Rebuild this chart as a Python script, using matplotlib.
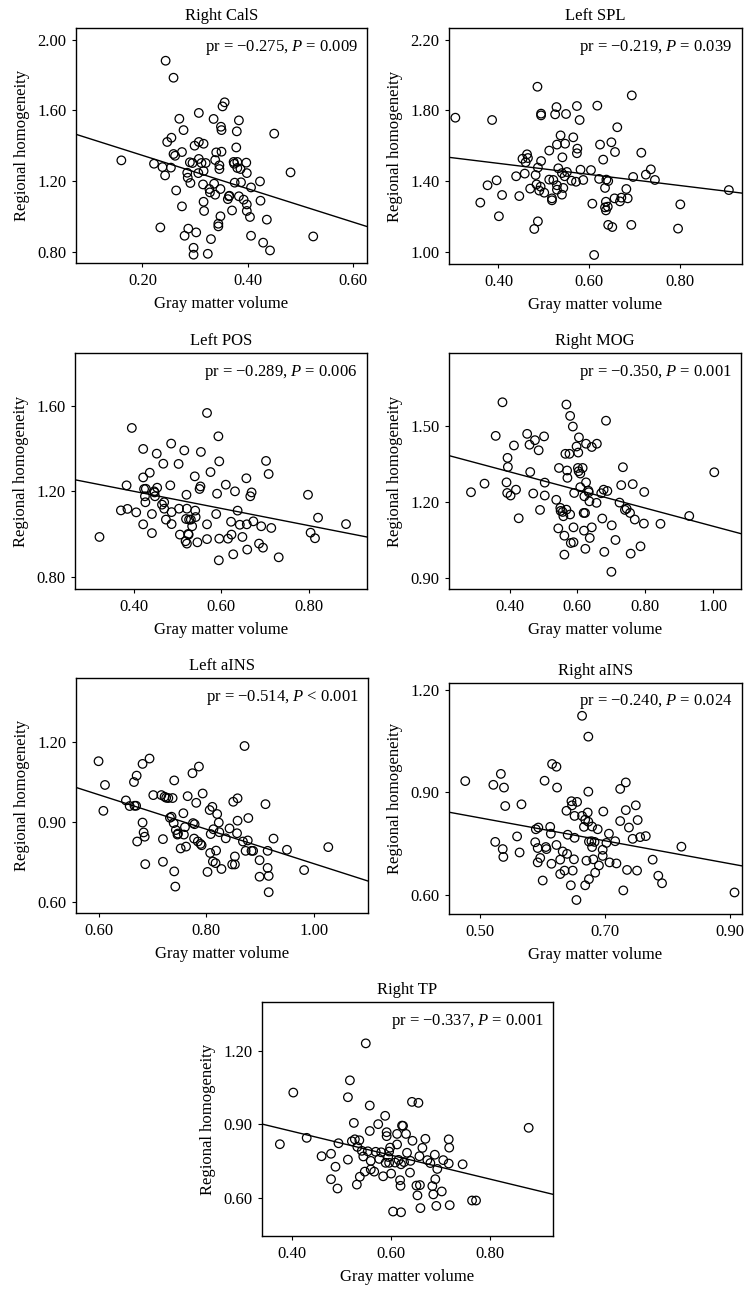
import numpy as np
import matplotlib
matplotlib.use("Agg")
from matplotlib import pyplot as plt

plt.rcParams['font.family'] = ['Liberation Serif', 'DejaVu Serif']
plt.rcParams['mathtext.fontset'] = 'custom'
plt.rcParams['mathtext.rm'] = 'Liberation Serif'
plt.rcParams['mathtext.it'] = 'Liberation Serif:italic'

# ---- data (gray matter volume, regional homogeneity) ----
x_cals = [0.160, 0.244, 0.259, 0.356, 0.352, 0.270, 0.307, 0.335, 0.383, 0.278, 0.349, 0.350,
          0.379, 0.450, 0.255, 0.247, 0.307, 0.299, 0.316, 0.378, 0.275, 0.259, 0.262, 0.340,
          0.350, 0.397, 0.222, 0.238, 0.243, 0.290, 0.295, 0.307, 0.312, 0.320, 0.338, 0.346,
          0.346, 0.373, 0.380, 0.374, 0.380, 0.386, 0.398, 0.254, 0.306, 0.285, 0.316, 0.286,
          0.291, 0.315, 0.336, 0.327, 0.328, 0.338, 0.348, 0.375, 0.387, 0.423, 0.406, 0.481,
          0.264, 0.364, 0.365, 0.362, 0.383, 0.392, 0.398, 0.424, 0.316, 0.275, 0.317, 0.370,
          0.398, 0.348, 0.404, 0.436, 0.234, 0.287, 0.302, 0.280, 0.330, 0.406, 0.344, 0.344,
          0.524, 0.429, 0.442, 0.297, 0.297, 0.324]
y_cals = [1.318, 1.881, 1.785, 1.646, 1.623, 1.553, 1.586, 1.552, 1.544, 1.489, 1.508, 1.489,
          1.482, 1.469, 1.446, 1.422, 1.422, 1.401, 1.412, 1.391, 1.365, 1.354, 1.344, 1.363,
          1.367, 1.305, 1.299, 1.280, 1.233, 1.307, 1.303, 1.326, 1.303, 1.303, 1.320, 1.290,
          1.269, 1.309, 1.309, 1.299, 1.275, 1.269, 1.246, 1.277, 1.246, 1.248, 1.258, 1.220,
          1.190, 1.182, 1.186, 1.156, 1.137, 1.124, 1.156, 1.192, 1.194, 1.199, 1.165, 1.250,
          1.148, 1.115, 1.118, 1.099, 1.115, 1.096, 1.069, 1.090, 1.084, 1.058, 1.032, 1.035,
          1.032, 1.002, 0.998, 0.983, 0.939, 0.932, 0.911, 0.892, 0.873, 0.892, 0.945, 0.960,
          0.888, 0.853, 0.809, 0.824, 0.785, 0.790]

x_spl = [0.305, 0.386, 0.360, 0.376, 0.396, 0.401, 0.408, 0.439, 0.446, 0.458, 0.453, 0.460,
         0.463, 0.465, 0.470, 0.479, 0.482, 0.484, 0.486, 0.487, 0.487, 0.490, 0.493, 0.494,
         0.494, 0.494, 0.501, 0.512, 0.512, 0.518, 0.518, 0.521, 0.525, 0.528, 0.529, 0.529,
         0.529, 0.532, 0.537, 0.540, 0.541, 0.540, 0.543, 0.546, 0.547, 0.549, 0.551, 0.561,
         0.565, 0.571, 0.573, 0.574, 0.573, 0.579, 0.581, 0.587, 0.604, 0.607, 0.611, 0.622,
         0.624, 0.618, 0.631, 0.638, 0.642, 0.635, 0.635, 0.637, 0.637, 0.641, 0.642, 0.649,
         0.651, 0.656, 0.657, 0.662, 0.668, 0.671, 0.682, 0.685, 0.693, 0.694, 0.697, 0.715,
         0.725, 0.736, 0.745, 0.796, 0.801, 0.908]
y_spl = [1.759, 1.746, 1.279, 1.377, 1.405, 1.202, 1.322, 1.428, 1.316, 1.443, 1.527, 1.507,
         1.552, 1.531, 1.358, 1.130, 1.435, 1.382, 1.934, 1.477, 1.173, 1.347, 1.369, 1.514,
         1.782, 1.772, 1.335, 1.409, 1.573, 1.303, 1.292, 1.407, 1.778, 1.819, 1.607, 1.377,
         1.352, 1.473, 1.659, 1.446, 1.535, 1.324, 1.362, 1.428, 1.612, 1.780, 1.452, 1.403,
         1.648, 1.397, 1.558, 1.584, 1.825, 1.746, 1.465, 1.407, 1.463, 1.273, 0.983, 1.413,
         1.607, 1.827, 1.522, 1.409, 1.401, 1.362, 1.252, 1.284, 1.235, 1.256, 1.153, 1.620,
         1.141, 1.303, 1.565, 1.705, 1.286, 1.307, 1.356, 1.303, 1.153, 1.885, 1.424, 1.561,
         1.437, 1.467, 1.407, 1.132, 1.269, 1.350]

x_pos = [0.321, 0.370, 0.385, 0.383, 0.395, 0.405, 0.421, 0.421, 0.421, 0.423, 0.425, 0.426,
         0.427, 0.436, 0.441, 0.441, 0.446, 0.447, 0.448, 0.452, 0.453, 0.464, 0.467, 0.469,
         0.469, 0.473, 0.483, 0.485, 0.486, 0.486, 0.502, 0.503, 0.505, 0.515, 0.518, 0.519,
         0.520, 0.521, 0.521, 0.525, 0.526, 0.524, 0.530, 0.533, 0.539, 0.540, 0.541, 0.545,
         0.550, 0.553, 0.552, 0.567, 0.567, 0.567, 0.575, 0.588, 0.590, 0.593, 0.594, 0.595,
         0.595, 0.610, 0.615, 0.622, 0.623, 0.627, 0.631, 0.637, 0.642, 0.648, 0.659, 0.658,
         0.657, 0.666, 0.669, 0.673, 0.686, 0.691, 0.695, 0.702, 0.708, 0.714, 0.731, 0.798,
         0.804, 0.814, 0.821, 0.885]
y_pos = [0.987, 1.111, 1.118, 1.228, 1.496, 1.102, 1.046, 1.398, 1.265, 1.211, 1.177, 1.149,
         1.212, 1.287, 1.094, 1.005, 1.200, 1.195, 1.177, 1.376, 1.217, 1.138, 1.329, 1.149,
         1.119, 1.068, 1.228, 1.423, 1.103, 1.047, 1.328, 1.119, 0.998, 1.391, 0.967, 1.071,
         1.184, 0.956, 1.119, 0.998, 1.068, 1.001, 1.068, 1.037, 1.270, 1.110, 1.080, 0.962,
         1.211, 1.384, 1.223, 1.566, 1.046, 0.977, 1.290, 1.094, 1.189, 1.457, 0.878, 1.340,
         0.979, 1.231, 0.979, 1.058, 0.998, 0.906, 1.200, 1.110, 1.044, 0.987, 0.928, 1.046,
         1.261, 1.177, 1.195, 1.060, 0.956, 1.037, 0.937, 1.342, 1.281, 1.029, 0.892, 1.184,
         1.007, 0.981, 1.077, 1.047]

x_mog = [0.286, 0.326, 0.359, 0.379, 0.391, 0.393, 0.394, 0.395, 0.403, 0.413, 0.419, 0.427,
         0.452, 0.459, 0.461, 0.470, 0.475, 0.486, 0.490, 0.502, 0.504, 0.504, 0.538, 0.544,
         0.546, 0.550, 0.551, 0.557, 0.559, 0.562, 0.562, 0.565, 0.568, 0.568, 0.570, 0.571,
         0.579, 0.577, 0.581, 0.579, 0.587, 0.589, 0.591, 0.589, 0.598, 0.602, 0.603, 0.605,
         0.604, 0.609, 0.609, 0.616, 0.619, 0.620, 0.621, 0.623, 0.626, 0.626, 0.624, 0.633,
         0.634, 0.636, 0.637, 0.643, 0.643, 0.658, 0.657, 0.671, 0.674, 0.678, 0.680, 0.685,
         0.689, 0.701, 0.702, 0.713, 0.725, 0.730, 0.735, 0.741, 0.746, 0.756, 0.758, 0.764,
         0.770, 0.787, 0.797, 0.798, 0.846, 0.931, 1.005]
y_mog = [1.239, 1.273, 1.462, 1.595, 1.278, 1.236, 1.375, 1.339, 1.226, 1.424, 1.249, 1.136,
         1.470, 1.427, 1.319, 1.234, 1.445, 1.405, 1.169, 1.460, 1.277, 1.226, 1.209, 1.096,
         1.335, 1.177, 1.165, 1.161, 1.144, 1.067, 0.992, 1.391, 1.586, 1.170, 1.325, 1.296,
         1.541, 1.391, 1.038, 1.151, 1.499, 1.041, 1.236, 1.100, 1.420, 1.335, 1.396, 1.456,
         1.322, 1.313, 1.259, 1.335, 1.157, 1.087, 1.223, 1.157, 1.431, 1.278, 1.015, 1.245,
         1.239, 1.203, 1.058, 1.100, 1.418, 1.431, 1.197, 1.235, 1.135, 1.249, 1.003, 1.522,
         1.244, 0.924, 1.108, 1.050, 1.198, 1.267, 1.338, 1.169, 1.174, 1.157, 0.996, 1.271,
         1.131, 1.025, 1.115, 1.240, 1.114, 1.145, 1.318]

x_lains = [0.599, 0.611, 0.608, 0.650, 0.657, 0.665, 0.666, 0.670, 0.669, 0.671, 0.681, 0.681,
           0.683, 0.685, 0.686, 0.694, 0.701, 0.716, 0.719, 0.719, 0.722, 0.725, 0.729, 0.732,
           0.735, 0.737, 0.739, 0.740, 0.740, 0.743, 0.742, 0.746, 0.747, 0.752, 0.757, 0.758,
           0.760, 0.762, 0.765, 0.774, 0.775, 0.777, 0.778, 0.781, 0.784, 0.786, 0.789, 0.791,
           0.793, 0.802, 0.806, 0.807, 0.808, 0.811, 0.812, 0.813, 0.817, 0.818, 0.820, 0.823,
           0.824, 0.828, 0.836, 0.843, 0.848, 0.850, 0.853, 0.853, 0.857, 0.858, 0.858, 0.868,
           0.871, 0.873, 0.877, 0.878, 0.884, 0.887, 0.899, 0.899, 0.910, 0.914, 0.914, 0.916,
           0.916, 0.925, 0.950, 0.982, 1.027]
y_lains = [1.129, 1.040, 0.943, 0.982, 0.961, 1.051, 0.962, 1.075, 0.962, 0.828, 1.119, 0.899,
           0.862, 0.846, 0.743, 1.139, 1.002, 1.002, 0.837, 0.752, 0.996, 0.992, 0.991, 0.917,
           0.921, 0.991, 0.897, 0.716, 1.057, 0.871, 0.659, 0.854, 0.858, 0.802, 0.934, 0.854,
           0.882, 0.809, 0.998, 1.084, 0.897, 0.839, 0.893, 0.973, 0.828, 1.109, 0.819, 0.814,
           1.008, 0.714, 0.946, 0.785, 0.856, 0.958, 0.753, 0.874, 0.747, 0.794, 0.931, 0.899,
           0.863, 0.725, 0.840, 0.877, 0.742, 0.977, 0.742, 0.772, 0.859, 0.906, 0.990, 0.828,
           1.186, 0.793, 0.832, 0.916, 0.793, 0.793, 0.758, 0.696, 0.968, 0.793, 0.729, 0.699,
           0.638, 0.839, 0.797, 0.721, 0.807]

x_rains = [0.477, 0.522, 0.534, 0.539, 0.541, 0.525, 0.537, 0.538, 0.560, 0.564, 0.567, 0.589,
           0.590, 0.593, 0.594, 0.593, 0.597, 0.601, 0.604, 0.606, 0.607, 0.613, 0.614, 0.615,
           0.616, 0.623, 0.624, 0.623, 0.629, 0.629, 0.633, 0.636, 0.639, 0.640, 0.641, 0.646,
           0.647, 0.648, 0.649, 0.651, 0.652, 0.652, 0.655, 0.656, 0.664, 0.664, 0.667, 0.669,
           0.669, 0.671, 0.673, 0.674, 0.674, 0.674, 0.675, 0.675, 0.679, 0.680, 0.680, 0.682,
           0.684, 0.685, 0.689, 0.691, 0.697, 0.697, 0.698, 0.703, 0.707, 0.708, 0.717, 0.719,
           0.725, 0.725, 0.730, 0.734, 0.734, 0.736, 0.739, 0.745, 0.750, 0.752, 0.753, 0.757,
           0.766, 0.777, 0.786, 0.792, 0.823, 0.908]
y_rains = [0.933, 0.922, 0.954, 0.914, 0.860, 0.755, 0.734, 0.711, 0.771, 0.724, 0.865, 0.754,
           0.792, 0.737, 0.797, 0.695, 0.708, 0.642, 0.934, 0.740, 0.734, 0.799, 0.779, 0.691,
           0.983, 0.975, 0.914, 0.746, 0.703, 0.661, 0.727, 0.671, 0.846, 0.720, 0.776, 0.628,
           0.874, 0.862, 0.671, 0.704, 0.767, 0.831, 0.585, 0.872, 1.124, 0.831, 0.799, 0.820,
           0.628, 0.700, 0.841, 1.063, 0.902, 0.814, 0.756, 0.646, 0.757, 0.740, 0.800, 0.704,
           0.755, 0.665, 0.792, 0.686, 0.732, 0.714, 0.844, 0.752, 0.779, 0.695, 0.757, 0.692,
           0.816, 0.910, 0.613, 0.848, 0.929, 0.673, 0.797, 0.764, 0.862, 0.671, 0.819, 0.769,
           0.772, 0.703, 0.656, 0.634, 0.741, 0.607]

x_tp = [0.376, 0.403, 0.430, 0.460, 0.479, 0.479, 0.488, 0.492, 0.494, 0.513, 0.513, 0.517,
        0.521, 0.525, 0.527, 0.531, 0.532, 0.536, 0.537, 0.541, 0.544, 0.547, 0.549, 0.553,
        0.557, 0.557, 0.559, 0.559, 0.566, 0.569, 0.574, 0.576, 0.580, 0.584, 0.588, 0.589,
        0.591, 0.591, 0.594, 0.596, 0.596, 0.598, 0.600, 0.604, 0.608, 0.612, 0.612, 0.615,
        0.618, 0.620, 0.619, 0.622, 0.620, 0.624, 0.626, 0.630, 0.632, 0.638, 0.642, 0.643,
        0.639, 0.651, 0.653, 0.655, 0.657, 0.658, 0.659, 0.663, 0.669, 0.673, 0.679, 0.683,
        0.685, 0.688, 0.689, 0.691, 0.693, 0.702, 0.705, 0.716, 0.717, 0.716, 0.718, 0.744,
        0.763, 0.771, 0.877]
y_tp = [0.819, 1.030, 0.845, 0.770, 0.780, 0.676, 0.727, 0.638, 0.823, 0.756, 1.011, 1.080,
        0.831, 0.906, 0.839, 0.654, 0.808, 0.835, 0.686, 0.792, 0.769, 0.707, 1.231, 0.790,
        0.873, 0.977, 0.751, 0.716, 0.707, 0.788, 0.901, 0.759, 0.786, 0.688, 0.935, 0.743,
        0.868, 0.852, 0.767, 0.789, 0.743, 0.805, 0.699, 0.544, 0.744, 0.861, 0.818, 0.755,
        0.672, 0.737, 0.649, 0.895, 0.541, 0.894, 0.746, 0.861, 0.784, 0.703, 0.992, 0.833,
        0.751, 0.650, 0.610, 0.988, 0.770, 0.652, 0.558, 0.804, 0.841, 0.754, 0.742, 0.648,
        0.614, 0.776, 0.676, 0.567, 0.718, 0.626, 0.754, 0.839, 0.805, 0.740, 0.570, 0.737,
        0.589, 0.589, 0.886]

titles = ["Right CalS", "Left SPL", "Left POS", "Right MOG", "Left aINS", "Right aINS", "Right TP"]
pr_values = ["\u22120.275", "\u22120.219", "\u22120.289", "\u22120.350", "\u22120.514", "\u22120.240", "\u22120.337"]
p_values = ["= 0.009", "= 0.039", "= 0.006", "= 0.001", "< 0.001", "= 0.024", "= 0.001"]
# fitted line (slope, intercept) as drawn in each panel
slopes = [-0.944, -0.313, -0.400, -0.358, -0.645, -0.335, -0.490]
intercepts = [1.535, 1.626, 1.360, 1.463, 1.390, 0.993, 1.068]
xticks = [[0.2, 0.4, 0.6], [0.4, 0.6, 0.8], [0.4, 0.6, 0.8], [0.4, 0.6, 0.8, 1.0],
          [0.6, 0.8, 1.0], [0.5, 0.7, 0.9], [0.4, 0.6, 0.8]]
yticks = [[0.8, 1.2, 1.6, 2.0], [1.0, 1.4, 1.8, 2.2], [0.8, 1.2, 1.6], [0.9, 1.2, 1.5],
          [0.6, 0.9, 1.2], [0.6, 0.9, 1.2], [0.6, 0.9, 1.2]]
xlims = [(0.074, 0.626), (0.291, 0.937), (0.265, 0.933), (0.221, 1.084),
         (0.557, 1.101), (0.451, 0.920), (0.340, 0.926)]
ylims = [(0.738, 2.066), (0.932, 2.266), (0.744, 1.846), (0.856, 1.790),
         (0.560, 1.441), (0.544, 1.220), (0.444, 1.400)]

xs = [x_cals, x_spl, x_pos, x_mog, x_lains, x_rains, x_tp]
ys = [y_cals, y_spl, y_pos, y_mog, y_lains, y_rains, y_tp]

# axes boxes in pixels: left, right, top, bottom
W, H = 752, 1295
boxes = [(76, 367, 28, 263), (449, 742, 28, 264),
         (75, 367, 353, 589), (449, 741, 353, 589),
         (76, 368, 678, 913), (449, 742, 683, 914),
         (262, 553, 1002, 1236)]

fig = plt.figure(figsize=(W / 100, H / 100), dpi=100)

for i in range(7):
    l, r, t, b = boxes[i]
    ax = fig.add_axes([l / W, 1 - b / H, (r - l) / W, (b - t) / H])
    ax.scatter(xs[i], ys[i], s=38, facecolors='none', edgecolors='black', linewidths=0.9, zorder=3)
    xx = np.array(xlims[i])
    ax.plot(xx, slopes[i] * xx + intercepts[i], color='black', lw=1.0, zorder=2)
    ax.set_xlim(xlims[i])
    ax.set_ylim(ylims[i])
    ax.set_xticks(xticks[i])
    ax.set_yticks(yticks[i])
    ax.set_xticklabels(["%.2f" % v for v in xticks[i]])
    ax.set_yticklabels(["%.2f" % v for v in yticks[i]])
    ax.tick_params(labelsize=12, length=3, width=0.8, direction='out', pad=4)
    for sp in ax.spines.values():
        sp.set_linewidth(1.0)
    ax.set_title(titles[i], fontsize=12, pad=6)
    ax.set_xlabel("Gray matter volume", fontsize=12, labelpad=5)
    ax.set_ylabel("Regional homogeneity", fontsize=12, labelpad=5)
    ax.text(0.968, 0.918, "pr = %s, $\\mathit{P}$ %s" % (pr_values[i], p_values[i]),
            transform=ax.transAxes, ha='right', va='center', fontsize=12)

fig.savefig("out.png", dpi=100)
